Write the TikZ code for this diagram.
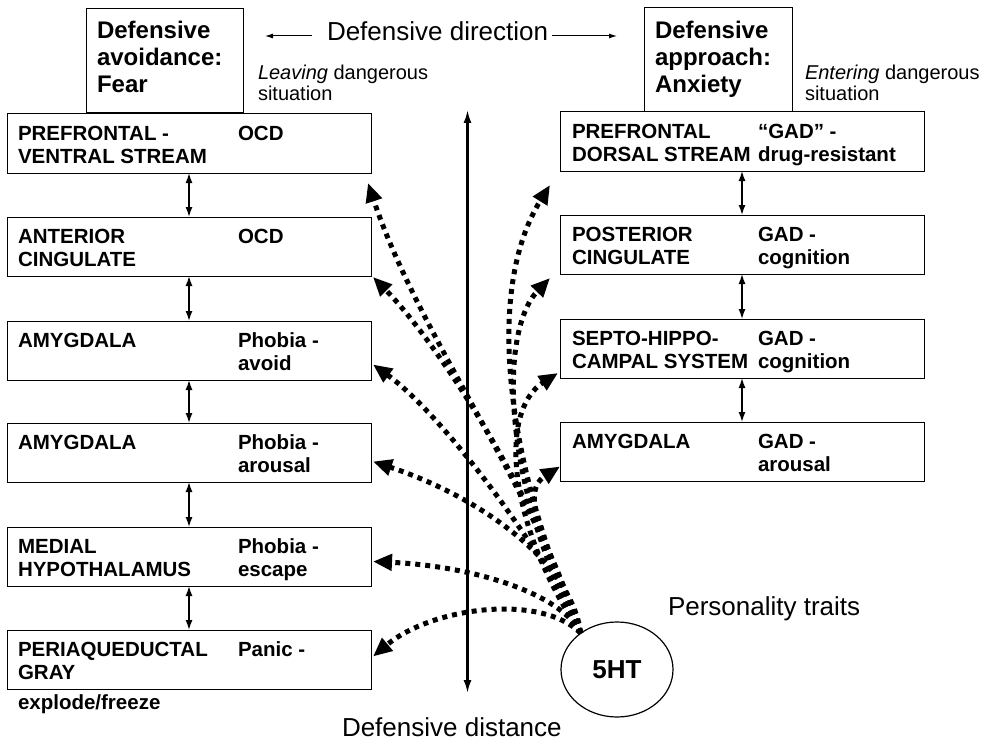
\documentclass[tikz,border=0pt]{standalone}
\usepackage{fontspec}
\setmainfont{Liberation Sans}
\usetikzlibrary{arrows.meta,shapes.geometric,calc}

\newcommand\boxtxt{\fontsize{20.5}{23}\selectfont\bfseries}
\newcommand\headtxt{\fontsize{24}{27}\selectfont\bfseries}
\newcommand\bigtxt{\fontsize{26}{30}\selectfont}
\newcommand\notetxt{\fontsize{20}{22}\selectfont}

\tikzset{
  region/.style={draw=black,line width=1pt,minimum width=364pt,minimum height=59pt},
  headbox/.style={draw=black,line width=1pt},
  stack/.style={line width=1.4pt,{Latex[length=10pt,width=7pt]}-{Latex[length=10pt,width=7pt]}},
  distaxis/.style={line width=2.2pt,{Latex[length=13pt,width=8pt]}-{Latex[length=13pt,width=8pt]}},
  dirarrow/.style={line width=1pt,-{Latex[length=8pt,width=5pt]}},
  serotonin/.style={line width=5pt,dash pattern=on 5pt off 5pt,-{Triangle[length=19pt,width=16pt]}},
}

\begin{document}
\begin{tikzpicture}[y=1pt, x=1pt, yscale=-1, inner sep=0pt, outer sep=0pt]

  \useasboundingbox (0,0) rectangle (1001,741);

  % heading
  \path (327,40.5) node[anchor=base west,font=\bigtxt] (dirtext) {Defensive direction};
  \coordinate (dirl0) at (312,36);
  \coordinate (dirl1) at (265,36);
  \coordinate (dirr0) at (552,36);
  \coordinate (dirr1) at (617,36);
  \draw[dirarrow] (dirl0) -- (dirl1);
  \draw[dirarrow] (dirr0) -- (dirr1);

  \node[headbox,minimum width=157pt,minimum height=104pt] (fearhead) at (164.5,61) {};
  \path (97,38.5) node[anchor=base west,font=\headtxt] (fearh1) {Defensive};
  \path (97,66) node[anchor=base west,font=\headtxt] (fearh2) {avoidance:};
  \path (97,93) node[anchor=base west,font=\headtxt] (fearh3) {Fear};

  \node[headbox,minimum width=148pt,minimum height=104pt] (anxhead) at (718,60) {};
  \path (655,38.5) node[anchor=base west,font=\headtxt] (anxh1) {Defensive};
  \path (655,66) node[anchor=base west,font=\headtxt] (anxh2) {approach:};
  \path (655,93) node[anchor=base west,font=\headtxt] (anxh3) {Anxiety};

  \path (258,80) node[anchor=base west,font=\notetxt] (leave1) {\textit{Leaving} dangerous};
  \path (258,101) node[anchor=base west,font=\notetxt] (leave2) {situation};
  \path (805,80) node[anchor=base west,font=\notetxt] (enter1) {\textit{Entering} dangerous};
  \path (805,101) node[anchor=base west,font=\notetxt] (enter2) {situation};

  % fear column
  \node[region] (fear1) at (189,143.5) {};
  \node[region] (fear2) at (189,246.5) {};
  \node[region] (fear3) at (189,350.5) {};
  \node[region] (fear4) at (189,452.5) {};
  \node[region] (fear5) at (189,556.5) {};
  \node[region] (fear6) at (189,659.5) {};

  \path (18,140.5) node[anchor=base west,font=\boxtxt] (tfear1a) {PREFRONTAL -};
  \path (18,163.5) node[anchor=base west,font=\boxtxt] (tfear1b) {VENTRAL STREAM};
  \path (238,140.5) node[anchor=base west,font=\boxtxt] (tfear1c) {OCD};
  \path (18,243.5) node[anchor=base west,font=\boxtxt] (tfear2a) {ANTERIOR};
  \path (18,266.5) node[anchor=base west,font=\boxtxt] (tfear2b) {CINGULATE};
  \path (238,243.5) node[anchor=base west,font=\boxtxt] (tfear2c) {OCD};
  \path (18,347.5) node[anchor=base west,font=\boxtxt] (tfear3a) {AMYGDALA};
  \path (238,347.5) node[anchor=base west,font=\boxtxt] (tfear3c) {Phobia -};
  \path (238,370.5) node[anchor=base west,font=\boxtxt] (tfear3d) {avoid};
  \path (18,449.5) node[anchor=base west,font=\boxtxt] (tfear4a) {AMYGDALA};
  \path (238,449.5) node[anchor=base west,font=\boxtxt] (tfear4c) {Phobia -};
  \path (238,472.5) node[anchor=base west,font=\boxtxt] (tfear4d) {arousal};
  \path (18,553.5) node[anchor=base west,font=\boxtxt] (tfear5a) {MEDIAL};
  \path (18,576.5) node[anchor=base west,font=\boxtxt] (tfear5b) {HYPOTHALAMUS};
  \path (238,553.5) node[anchor=base west,font=\boxtxt] (tfear5c) {Phobia -};
  \path (238,576.5) node[anchor=base west,font=\boxtxt] (tfear5d) {escape};
  \path (18,656.5) node[anchor=base west,font=\boxtxt] (tfear6a) {PERIAQUEDUCTAL};
  \path (18,679.5) node[anchor=base west,font=\boxtxt] (tfear6b) {GRAY};
  \path (238,656.5) node[anchor=base west,font=\boxtxt] (tfear6c) {Panic -};
  \path (18,709) node[anchor=base west,font=\boxtxt] (explode) {explode/freeze};

  \draw[stack] (fear1.south) -- (fear2.north);
  \draw[stack] (fear2.south) -- (fear3.north);
  \draw[stack] (fear3.south) -- (fear4.north);
  \draw[stack] (fear4.south) -- (fear5.north);
  \draw[stack] (fear5.south) -- (fear6.north);

  % anxiety column
  \node[region] (anx1) at (742,141.5) {};
  \node[region] (anx2) at (742,244.5) {};
  \node[region] (anx3) at (742,348.5) {};
  \node[region] (anx4) at (742,451.5) {};

  \path (572,138.5) node[anchor=base west,font=\boxtxt] (tanx1a) {PREFRONTAL};
  \path (572,161.5) node[anchor=base west,font=\boxtxt] (tanx1b) {DORSAL STREAM};
  \path (758,138.5) node[anchor=base west,font=\boxtxt] (tanx1c) {“GAD” -};
  \path (758,161.5) node[anchor=base west,font=\boxtxt] (tanx1d) {drug-resistant};
  \path (572,241.5) node[anchor=base west,font=\boxtxt] (tanx2a) {POSTERIOR};
  \path (572,264.5) node[anchor=base west,font=\boxtxt] (tanx2b) {CINGULATE};
  \path (758,241.5) node[anchor=base west,font=\boxtxt] (tanx2c) {GAD -};
  \path (758,264.5) node[anchor=base west,font=\boxtxt] (tanx2d) {cognition};
  \path (572,345.5) node[anchor=base west,font=\boxtxt] (tanx3a) {SEPTO-HIPPO-};
  \path (572,368.5) node[anchor=base west,font=\boxtxt] (tanx3b) {CAMPAL SYSTEM};
  \path (758,345.5) node[anchor=base west,font=\boxtxt] (tanx3c) {GAD -};
  \path (758,368.5) node[anchor=base west,font=\boxtxt] (tanx3d) {cognition};
  \path (572,448.5) node[anchor=base west,font=\boxtxt] (tanx4a) {AMYGDALA};
  \path (758,448.5) node[anchor=base west,font=\boxtxt] (tanx4c) {GAD -};
  \path (758,471.5) node[anchor=base west,font=\boxtxt] (tanx4d) {arousal};

  \draw[stack] (anx1.south) -- (anx2.north);
  \draw[stack] (anx2.south) -- (anx3.north);
  \draw[stack] (anx3.south) -- (anx4.north);

  % distance axis
  \coordinate (axtop) at (467.5,110);
  \coordinate (axbot) at (467.5,693);
  \draw[distaxis] (axbot) -- (axtop);
  \path (342,736) node[anchor=base west,font=\bigtxt] (disttext) {Defensive distance};

  % serotonin
  \node[draw=black,line width=1.2pt,ellipse,minimum width=112pt,minimum height=95pt,
    font=\bigtxt\bfseries] (ht) at (617,669.5) {5HT};
  \path (668,615) node[anchor=base west,font=\bigtxt] (traits) {Personality traits};

  \draw[serotonin] (ht.135) .. controls (531,483) and (418,333) .. ($(fear1.south east)+(-3,10)$);
  \draw[serotonin] (ht.135) .. controls (531,483) and (433,338) .. ($(fear2.south east)+(2,1)$);
  \draw[serotonin] (ht.135) .. controls (546,553) and (443,415) .. ($(fear3.east)+(2,14)$);
  \draw[serotonin] (ht.135) .. controls (571,563) and (483,498) .. ($(fear4.east)+(2,9)$);
  \draw[serotonin] (ht.135) .. controls (561,593) and (472,566) .. ($(fear5.east)+(2,5)$);
  \draw[serotonin] (ht.135) .. controls (541,593) and (432,607) .. ($(fear6.east)+(2,-3)$);
  \draw[serotonin] (ht.135) .. controls (505,460) and (485,290) .. ($(anx1.south west)+(-10,14)$);
  \draw[serotonin] (ht.135) .. controls (500,480) and (500,330) .. ($(anx2.south west)+(-10,4)$);
  \draw[serotonin] (ht.135) .. controls (505,520) and (500,410) .. ($(anx3.south west)+(-2,-5)$);
  \draw[serotonin] (ht.135) .. controls (555,560) and (515,495) .. ($(anx4.west)+(0,15)$);

\end{tikzpicture}
\end{document}
